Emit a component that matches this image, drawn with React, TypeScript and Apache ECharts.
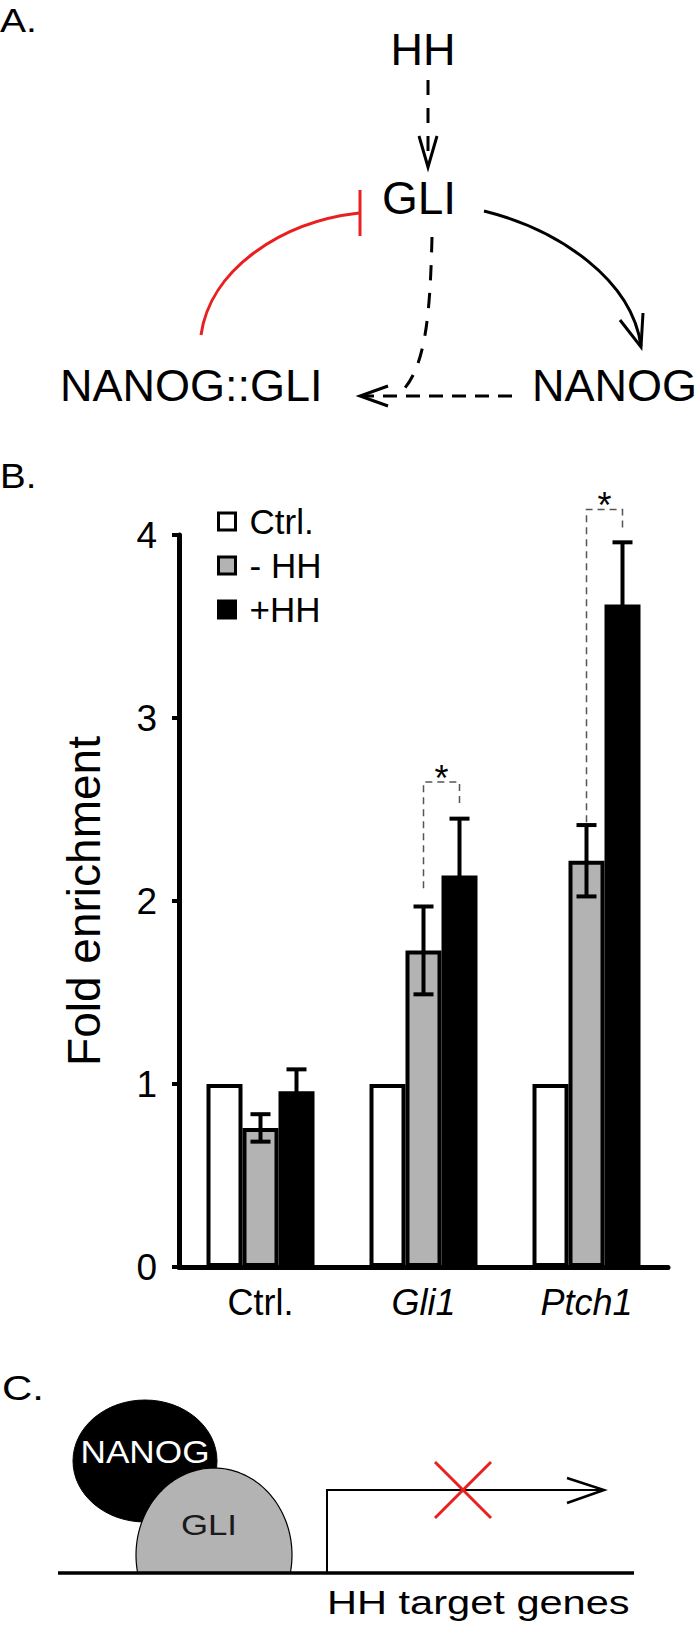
import React, { useEffect, useRef } from "react";
import * as echarts from "echarts";

// ---------- data ----------
const categories = ["Ctrl.", "Gli1", "Ptch1"];
const italicCategories = [false, true, true];
const seriesNames = ["Ctrl.", "- HH", "+HH"];
const ctrlValues = [1, 1, 1];
const minusHHValues = [0.76, 1.73, 2.22];
const minusHHErrors = [0.075, 0.24, 0.195];
const plusHHValues = [0.96, 2.14, 3.62];
const plusHHErrors = [0.12, 0.31, 0.34];
const yMin = 0;
const yMax = 4;
const yInterval = 1;
// significance brackets (dashed), one per marked category
const sigCategoryIndex = [1, 2];
const sigLeftBase = [2.07, 2.43];
const sigTop = [2.65, 4.14];
const sigRightBase = [2.52, 4.04];
const sigLabels = ["*", "*"];

const barColors = ["#ffffff", "#b3b3b3", "#000000"];
const FONT = '"Liberation Sans", Arial, Helvetica, sans-serif';
const BAR_W = 36;
const CAP = 10;

function errorRender(offsetIndex: number) {
  return (params: any, api: any) => {
    const c = api.value(0);
    const lo = api.coord([c, api.value(1)]);
    const hi = api.coord([c, api.value(2)]);
    const x = lo[0] + offsetIndex * BAR_W;
    const st = { stroke: "#000", lineWidth: 4 };
    return {
      type: "group",
      children: [
        { type: "line", shape: { x1: x, y1: lo[1], x2: x, y2: hi[1] }, style: st },
        { type: "line", shape: { x1: x - CAP, y1: hi[1], x2: x + CAP, y2: hi[1] }, style: st },
        { type: "line", shape: { x1: x - CAP, y1: lo[1], x2: x + CAP, y2: lo[1] }, style: st },
      ],
    };
  };
}

function sigRender(params: any, api: any) {
  const c = api.value(0);
  const pL = api.coord([c, api.value(1)]);
  const pT = api.coord([c, api.value(2)]);
  const pR = api.coord([c, api.value(3)]);
  const xl = pL[0];
  const xr = pL[0] + BAR_W;
  return {
    type: "group",
    children: [
      {
        type: "polyline",
        shape: { points: [[xl, pL[1]], [xl, pT[1]], [xr, pT[1]], [xr, pR[1]]] },
        style: { stroke: "#555", lineWidth: 1.5, lineDash: [7, 5], fill: "none" },
      },
      {
        type: "text",
        style: {
          text: sigLabels[params.dataIndex],
          x: (xl + xr) / 2,
          y: pT[1] - 4,
          align: "center",
          verticalAlign: "middle",
          fontSize: 36,
          fontFamily: FONT,
          fill: "#000",
        },
      },
    ],
  };
}

function buildGraphics() {
  const g: any[] = [];
  const txt = (
    text: string,
    x: number,
    y: number,
    size: number,
    align = "left",
    fill = "#000",
    scaleX = 1
  ) => ({
    type: "text",
    x,
    y,
    scaleX,
    style: { text, fontSize: size, fontFamily: FONT, fill, align, verticalAlign: "middle" },
  });
  // Panel labels
  g.push(txt("A.", 0, 20, 34, "left", "#000", 1.15));
  g.push(txt("B.", 0, 476, 35, "left", "#000", 1.1));
  g.push(txt("C.", 2, 1388, 35, "left", "#000", 1.2));

  // ----- Panel A -----
  g.push(txt("HH", 423, 49, 45, "center"));
  g.push(txt("GLI", 419, 198, 46, "center"));
  g.push(txt("NANOG::GLI", 60, 385, 45, "left"));
  g.push(txt("NANOG", 532, 385, 45, "left"));
  const dash = { stroke: "#000", lineWidth: 3, lineDash: [15, 13], fill: "none" };
  const solid = { stroke: "#000", lineWidth: 3, fill: "none" };
  // HH -> GLI dashed arrow
  g.push({ type: "line", shape: { x1: 428, y1: 80, x2: 428, y2: 164 }, style: dash });
  g.push({ type: "polyline", shape: { points: [[419, 136], [428, 167], [437, 136]] }, style: solid });
  // red inhibition arc NANOG::GLI -| GLI
  g.push({
    type: "bezierCurve",
    shape: { x1: 201, y1: 335, cpx1: 210, cpy1: 270, cpx2: 280, cpy2: 222, x2: 359, y2: 213 },
    style: { stroke: "#e8201f", lineWidth: 3, fill: "none" },
  });
  g.push({ type: "line", shape: { x1: 360, y1: 190, x2: 360, y2: 236 }, style: { stroke: "#e8201f", lineWidth: 3 } });
  // black arc GLI -> NANOG
  g.push({
    type: "bezierCurve",
    shape: { x1: 484, y1: 211, cpx1: 560, cpy1: 230, cpx2: 632, cpy2: 280, x2: 641, y2: 346 },
    style: solid,
  });
  g.push({ type: "polyline", shape: { points: [[620, 320], [641, 347], [643, 313]] }, style: solid });
  // dashed GLI -> complex
  g.push({
    type: "bezierCurve",
    shape: { x1: 432, y1: 237, cpx1: 430, cpy1: 320, cpx2: 425, cpy2: 372, x2: 398, y2: 395 },
    style: dash,
  });
  // dashed NANOG -> complex
  g.push({ type: "line", shape: { x1: 512, y1: 396, x2: 362, y2: 396 }, style: { ...dash, lineDash: [14, 9] } });
  g.push({ type: "polyline", shape: { points: [[388, 386], [360, 396], [388, 406]] }, style: solid });

  // ----- Panel C -----
  g.push({
    type: "ellipse",
    shape: { cx: 145, cy: 1461, rx: 72, ry: 61 },
    style: { fill: "#000", stroke: "#000", lineWidth: 1 },
  });
  const cx = 214, cy = 1555, rx = 78, ry = 87, base = 1573;
  const t0 = Math.asin((cy - base) / ry);
  const pts: number[][] = [];
  const n = 80;
  for (let i = 0; i <= n; i++) {
    const t = t0 + ((Math.PI - 2 * t0) * i) / n;
    pts.push([cx + rx * Math.cos(t), cy - ry * Math.sin(t)]);
  }
  g.push({ type: "polygon", shape: { points: pts }, style: { fill: "#b3b3b3", stroke: "#000", lineWidth: 1.2 } });
  g.push(txt("NANOG", 145, 1452, 32, "center", "#fff", 1.1));
  g.push(txt("GLI", 209, 1525, 29, "center", "#1a1a1a", 1.2));
  g.push({ type: "line", shape: { x1: 58, y1: 1573, x2: 634, y2: 1573 }, style: { stroke: "#000", lineWidth: 3.5 } });
  const thin = { stroke: "#000", lineWidth: 2, fill: "none" };
  g.push({ type: "polyline", shape: { points: [[327, 1573], [327, 1490], [603, 1490]] }, style: thin });
  g.push({ type: "polyline", shape: { points: [[567, 1478], [604, 1490], [567, 1503]] }, style: { ...thin, lineWidth: 2.5 } });
  const red = { stroke: "#e8201f", lineWidth: 3 };
  g.push({ type: "line", shape: { x1: 435, y1: 1462, x2: 491, y2: 1518 }, style: red });
  g.push({ type: "line", shape: { x1: 491, y1: 1462, x2: 435, y2: 1518 }, style: red });
  g.push(txt("HH target genes", 327, 1603, 33, "left", "#000", 1.26));
  return g;
}

export default function App() {
  const ref = useRef<HTMLDivElement>(null);
  useEffect(() => {
    if (!ref.current) return;
    const chart = echarts.init(ref.current, null, { renderer: "svg" });
    const valueSets = [ctrlValues, minusHHValues, plusHHValues];
    const option: any = {
      animation: false,
      backgroundColor: "#fff",
      textStyle: { fontFamily: FONT },
      grid: { left: 179, right: 32, top: 535, bottom: 363, containLabel: false },
      legend: {
        orient: "vertical",
        left: 217,
        top: 504,
        padding: 0,
        itemWidth: 17,
        itemHeight: 17,
        itemGap: 9,
        icon: "rect",
        selectedMode: false,
        data: seriesNames.map((nm, i) => ({
          name: nm,
          itemStyle: { color: barColors[i], borderColor: "#000", borderWidth: 3 },
        })),
        textStyle: { fontSize: 35, color: "#000", fontFamily: FONT, padding: [0, 0, 0, 9] },
      },
      xAxis: {
        type: "category",
        data: categories,
        axisLine: { lineStyle: { color: "#000", width: 5 } },
        axisTick: { alignWithLabel: true, length: 9, lineStyle: { width: 3, color: "#000" } },
        axisLabel: {
          interval: 0,
          hideOverlap: false,
          fontSize: 36,
          color: "#000",
          fontFamily: FONT,
          margin: 17,
          formatter: (v: string) => {
            const i = categories.indexOf(v);
            return italicCategories[i] ? "{it|" + v + "}" : v;
          },
          rich: { it: { fontStyle: "italic", fontSize: 36, color: "#000", fontFamily: FONT } },
        },
      },
      yAxis: {
        type: "value",
        min: yMin,
        max: yMax,
        interval: yInterval,
        name: "Fold enrichment",
        nameLocation: "middle",
        nameGap: 72,
        nameTextStyle: { fontSize: 46, color: "#000", fontFamily: FONT },
        axisLine: { show: true, lineStyle: { color: "#000", width: 5 } },
        axisTick: { show: true, length: 7, lineStyle: { width: 4, color: "#000" } },
        axisLabel: { fontSize: 37, color: "#000", fontFamily: FONT, margin: 22 },
        splitLine: { show: false },
      },
      series: [
        ...valueSets.map((vals, i) => ({
          type: "bar",
          name: seriesNames[i],
          data: vals,
          barWidth: BAR_W,
          barGap: "0%",
          itemStyle: { color: barColors[i], borderColor: "#000", borderWidth: 4 },
          silent: true,
        })),
        {
          type: "custom",
          name: "err1",
          renderItem: errorRender(0),
          data: minusHHValues.map((v, i) => [i, v - minusHHErrors[i], v + minusHHErrors[i]]),
          encode: { x: 0, y: [1, 2] },
          z: 5,
          silent: true,
        },
        {
          type: "custom",
          name: "err2",
          renderItem: errorRender(1),
          data: plusHHValues.map((v, i) => [i, v - plusHHErrors[i], v + plusHHErrors[i]]),
          encode: { x: 0, y: [1, 2] },
          z: 5,
          silent: true,
        },
        {
          type: "custom",
          name: "sig",
          renderItem: sigRender,
          data: sigCategoryIndex.map((c, i) => [c, sigLeftBase[i], sigTop[i], sigRightBase[i]]),
          encode: { x: 0, y: [1, 2, 3] },
          z: 6,
          silent: true,
          clip: false,
        },
      ],
      graphic: buildGraphics(),
    };
    chart.setOption(option);
    return () => chart.dispose();
  }, []);
  return (
    <div
      ref={ref}
      style={{ position: "absolute", left: 0, top: 0, width: 700, height: 1630, background: "#fff" }}
    />
  );
}
